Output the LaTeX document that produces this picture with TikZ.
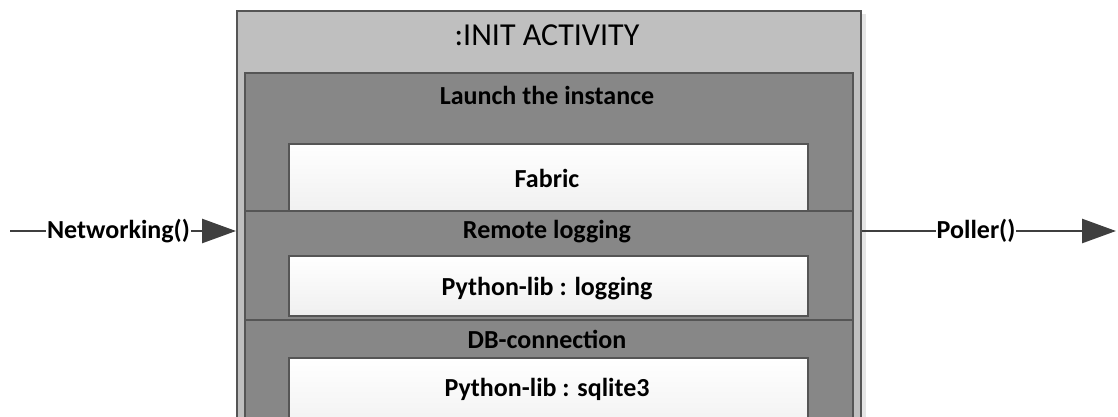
\documentclass[tikz,border=0pt]{standalone}
\usepackage{fontspec}
\setmainfont{Carlito}
\usetikzlibrary{arrows.meta}
\definecolor{outerfill}{HTML}{BFBFBF}
\definecolor{secfill}{HTML}{878787}
\definecolor{edge}{HTML}{555555}
\definecolor{arrowc}{HTML}{3F3F3F}
\tikzset{
  box/.style={draw=edge, line width=1.6pt, inner sep=0pt, anchor=north west},
  outerbox/.style={box, fill=outerfill},
  secbox/.style={box, fill=secfill},
  libbox/.style={box, top color=white, bottom color=black!6},
  lbl/.style={font=\bfseries\fontsize{26}{30}\selectfont, inner sep=0pt, anchor=base},
  ttl/.style={font=\fontsize{32}{36}\selectfont, inner sep=0pt, anchor=base},
  flow/.style={draw=arrowc, line width=2.6pt, -{Triangle[length=34pt,width=24pt]}},
  flowlbl/.style={font=\bfseries\fontsize{26}{30}\selectfont, fill=white, inner sep=1pt}
}
\begin{document}
\begin{tikzpicture}[x=1pt,y=-1pt]
\useasboundingbox (0,0) rectangle (1118,416);
\clip (0,0) rectangle (1118,416);
% shadow
\fill[black!10] (862,14) rectangle (866,430);
\node[outerbox, minimum width=624pt, minimum height=420pt] (outer) at (236,10) {};
\node[ttl] (title) at (547,45) {:INIT ACTIVITY};
% section 1
\node[secbox, minimum width=608pt, minimum height=138pt] (s1) at (244,72) {};
\node[lbl] (s1t) at (547,104) {Launch the instance};
\node[libbox, minimum width=519pt, minimum height=70pt] (b1) at (288,143) {};
\node[lbl] (b1t) at (547,187) {Fabric};
% section 2
\node[secbox, minimum width=608pt, minimum height=109pt] (s2) at (244,210) {};
\node[lbl] (s2t) at (547,238) {Remote logging};
\node[libbox, minimum width=519pt, minimum height=60pt] (b2) at (288,255) {};
\node[lbl] (b2t) at (547,295) {Python-lib : logging};
% section 3
\node[secbox, minimum width=608pt, minimum height=120pt] (s3) at (244,319) {};
\node[lbl] (s3t) at (547,348) {DB-connection};
\node[libbox, minimum width=519pt, minimum height=80pt] (b3) at (288,357) {};
\node[lbl] (b3t) at (547,396) {Python-lib : sqlite3};
% arrows
\coordinate (lin) at (10,231);
\coordinate (rout) at (1116,231);
\draw[flow] (lin) -- node[flowlbl, pos=0.48] {Networking()} (lin -| outer.west);
\draw[flow] (rout -| outer.east) -- node[flowlbl, pos=0.45] {Poller()} (rout);
\end{tikzpicture}
\end{document}
